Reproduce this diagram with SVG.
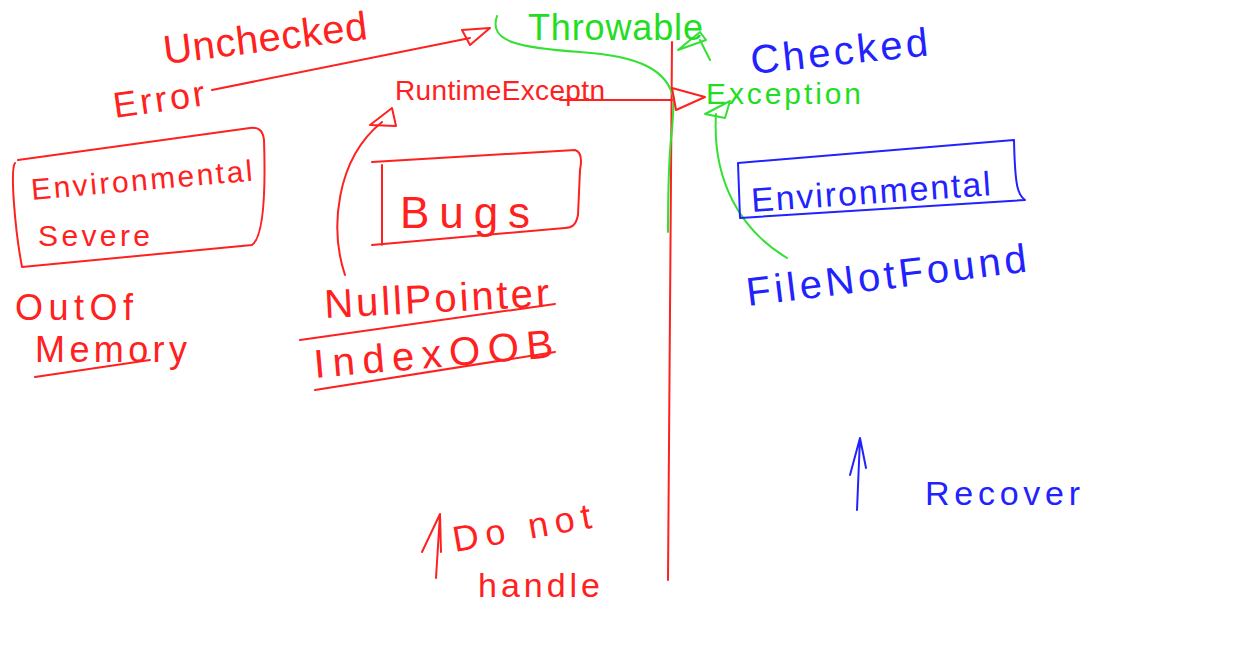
<svg xmlns="http://www.w3.org/2000/svg" width="1250" height="650" viewBox="0 0 1250 650">
<style>
text{font-family:"Liberation Sans","DejaVu Sans",sans-serif;}
.r{fill:#ff2020}.g{fill:#22dd22}.b{fill:#2222ff}
.lr{fill:none;stroke:#ff2020;stroke-width:2;stroke-linecap:round;stroke-linejoin:round}
.lg{fill:none;stroke:#33e033;stroke-width:2;stroke-linecap:round;stroke-linejoin:round}
.lb{fill:none;stroke:#2222ff;stroke-width:2;stroke-linecap:round;stroke-linejoin:round}
</style>
<rect width="1250" height="650" fill="#ffffff"/>
<g id="connectors">
<path class="lr" d="M672,42 L668,580"/>
<path class="lg" d="M497,16 C488,42 520,48 580,52 C640,56 668,70 674,100 L672,130 C668,160 668,200 668,232"/>
<path class="lg" d="M700,40 L710,60"/>
<polygon class="lg" points="678,50 700,32 706,40"/>
<path class="lr" d="M212,90 L470,38"/>
<polygon class="lr" points="462,30 490,28 470,45"/>
<path class="lr" d="M560,100 L672,100"/>
<polygon class="lr" points="672,88 705,97 676,110"/>
<path class="lg" d="M787,258 C740,230 712,180 716,114"/>
<polygon class="lg" points="705,114 730,101 725,118"/>
<path class="lr" d="M345,275 C330,230 335,160 382,122"/>
<polygon class="lr" points="370,125 392,108 396,126"/>
<path class="lb" d="M857,510 L860,438 M850,475 L860,438 L866,468"/>
<path class="lr" d="M436,578 L440,514 M422,552 L440,514 L441,552"/>
<path class="lr" d="M35,377 L150,360"/>
<path class="lr" d="M300,340 L555,304"/>
<path class="lr" d="M315,390 L555,352"/>
</g>
<g id="throwable"><text class="g" x="528" y="40" font-size="36" textLength="175" lengthAdjust="spacing">Throwable</text></g>
<g id="unchecked"><text class="r" x="165" y="64" font-size="40" textLength="205" lengthAdjust="spacing" transform="rotate(-7 165 64)">Unchecked</text></g>
<g id="error"><text class="r" x="115" y="118" font-size="36" textLength="92" lengthAdjust="spacing" transform="rotate(-8 115 118)">Error</text></g>
<g id="checked"><text class="b" x="752" y="74" font-size="40" textLength="178" lengthAdjust="spacing" transform="rotate(-6 752 74)">Checked</text></g>
<g id="exception"><text class="g" x="706" y="104" font-size="30" textLength="155" lengthAdjust="spacing">Exception</text></g>
<g id="runtime"><text class="r" x="395" y="100" font-size="28" textLength="210" lengthAdjust="spacing">RuntimeExceptn</text></g>
<g id="env-severe">
<path class="lr" d="M15,163 C10,170 15,230 22,267 L252,245 C262,238 266,200 264,140 C263,130 258,127 250,128 L18,160"/>
<text class="r" x="32" y="200" font-size="30" textLength="222" lengthAdjust="spacing" transform="rotate(-5 32 200)">Environmental</text>
<text class="r" x="38" y="246" font-size="30" textLength="112" lengthAdjust="spacing">Severe</text>
</g>
<g id="oom">
<text class="r" x="15" y="320" font-size="36" textLength="118" lengthAdjust="spacing">OutOf</text>
<text class="r" x="35" y="362" font-size="36" textLength="152" lengthAdjust="spacing">Memory</text>
</g>
<g id="bugs">
<path class="lr" d="M372,162 L575,150 C582,152 582,160 580,170 L578,215 C576,225 572,228 565,228 L372,245 M382,165 L382,245"/>
<text class="r" x="400" y="228" font-size="44" textLength="130" lengthAdjust="spacing">Bugs</text>
</g>
<g id="nullpointer"><text class="r" x="325" y="318" font-size="40" textLength="225" lengthAdjust="spacing" transform="rotate(-3 325 318)">NullPointer</text></g>
<g id="indexoob"><text class="r" x="315" y="378" font-size="40" textLength="240" lengthAdjust="spacing" transform="rotate(-5 315 378)">IndexOOB</text></g>
<g id="env-blue">
<path class="lb" d="M738,163 L740,218 L1025,200 C1018,195 1015,188 1014,140 L738,163"/>
<text class="b" x="752" y="212" font-size="34" textLength="240" lengthAdjust="spacing" transform="rotate(-4 752 212)">Environmental</text>
</g>
<g id="filenotfound"><text class="b" x="748" y="306" font-size="40" textLength="282" lengthAdjust="spacing" transform="rotate(-7 748 306)">FileNotFound</text></g>
<g id="donthandle">
<text class="r" x="455" y="552" font-size="36" textLength="140" lengthAdjust="spacing" transform="rotate(-10 455 552)">Do not</text>
<text class="r" x="478" y="597" font-size="34" textLength="122" lengthAdjust="spacing">handle</text>
</g>
<g id="recover"><text class="b" x="925" y="505" font-size="34" textLength="155" lengthAdjust="spacing">Recover</text></g>
</svg>
